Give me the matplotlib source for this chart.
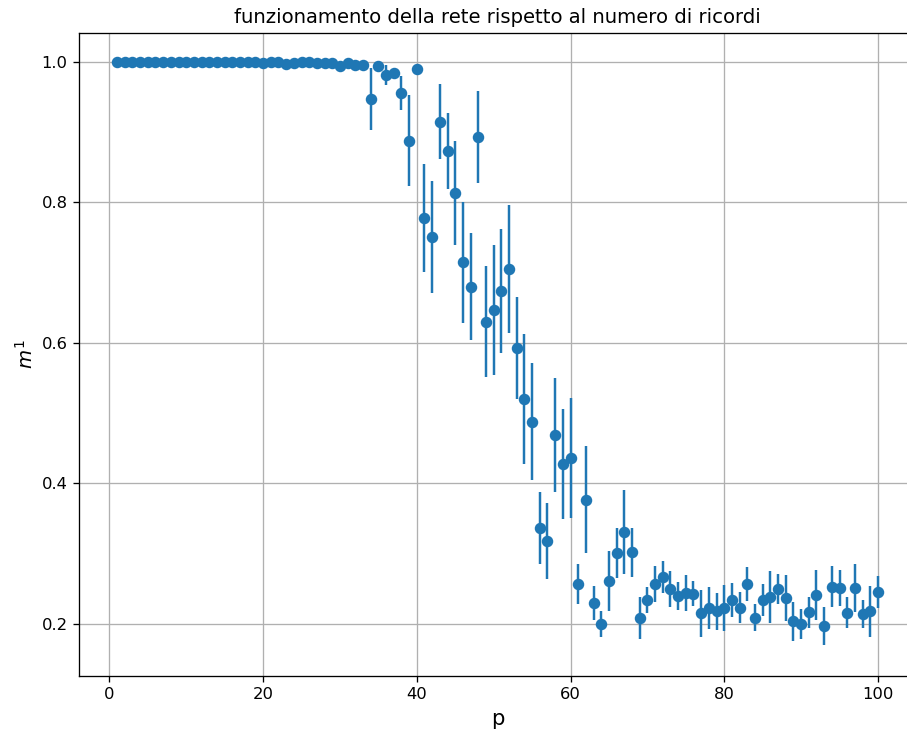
import matplotlib
matplotlib.use("Agg")
import matplotlib.pyplot as plt
import numpy as np

# numero di ricordi memorizzati
p = np.arange(1, 101)

# sovrapposizione media con il primo ricordo
m_alti = [1.0, 1.0, 1.0, 1.0, 1.0, 1.0, 1.0, 1.0, 1.0, 1.0,
          1.0, 1.0, 1.0, 1.0, 1.0, 1.0, 1.0, 1.0, 1.0, 0.998,
          1.0, 1.0, 0.997, 0.998, 1.0, 1.0, 0.998, 0.999, 0.999, 0.994,
          0.998, 0.995, 0.996]
m_bassi = [0.947, 0.994, 0.981, 0.984, 0.956, 0.888, 0.990, 0.778, 0.751, 0.915,
           0.873, 0.814, 0.715, 0.680, 0.893, 0.630, 0.647, 0.674, 0.705, 0.593,
           0.520, 0.488, 0.337, 0.318, 0.469, 0.428, 0.436, 0.257, 0.377, 0.230,
           0.200, 0.261, 0.301, 0.331, 0.302, 0.209, 0.234, 0.257, 0.267, 0.250,
           0.240, 0.244, 0.243, 0.215, 0.223, 0.218, 0.223, 0.234, 0.223, 0.257,
           0.209, 0.234, 0.238, 0.250, 0.237, 0.204, 0.200, 0.217, 0.241, 0.197,
           0.253, 0.251, 0.216, 0.251, 0.214, 0.218, 0.246]
m1 = m_alti + m_bassi

# deviazione standard sulle prove
err_alti = [0.0] * 19 + [0.002, 0.0, 0.0, 0.002, 0.002, 0.0, 0.0, 0.002,
                         0.001, 0.001, 0.003, 0.002, 0.003, 0.002]
err_bassi = [0.044, 0.004, 0.014, 0.004, 0.024, 0.065, 0.003, 0.077, 0.080, 0.054,
             0.054, 0.074, 0.086, 0.076, 0.065, 0.079, 0.092, 0.088, 0.091, 0.073,
             0.092, 0.083, 0.051, 0.054, 0.081, 0.078, 0.085, 0.029, 0.076, 0.024,
             0.019, 0.043, 0.036, 0.060, 0.035, 0.030, 0.019, 0.026, 0.023, 0.026,
             0.020, 0.026, 0.018, 0.033, 0.030, 0.026, 0.033, 0.024, 0.022, 0.024,
             0.019, 0.023, 0.037, 0.021, 0.033, 0.028, 0.021, 0.022, 0.036, 0.027,
             0.029, 0.026, 0.022, 0.034, 0.020, 0.036, 0.023]
err = err_alti + err_bassi

W, H, DPI = 907, 731, 118
fig = plt.figure(figsize=(W / DPI, H / DPI), dpi=DPI)
# il bordo destro degli assi finisce appena fuori dall'immagine
ax = fig.add_axes([79 / W, 1 - 676 / H, (916 - 79) / W, (676 - 33) / H])

ax.errorbar(p, m1, yerr=err, fmt="o")
ax.set_xlim(-3.95, 104.95)
ax.set_ylim(0.126, 1.041)
ax.set_xticks([0, 20, 40, 60, 80, 100])
ax.set_yticks([0.2, 0.4, 0.6, 0.8, 1.0])
ax.grid(True)
ax.set_title("funzionamento della rete rispetto al numero di ricordi")
ax.set_xlabel("p", fontsize=13)
ax.set_ylabel("$m^1$", fontsize=12, labelpad=3)

fig.savefig("out.png", dpi=DPI)
plt.close()
